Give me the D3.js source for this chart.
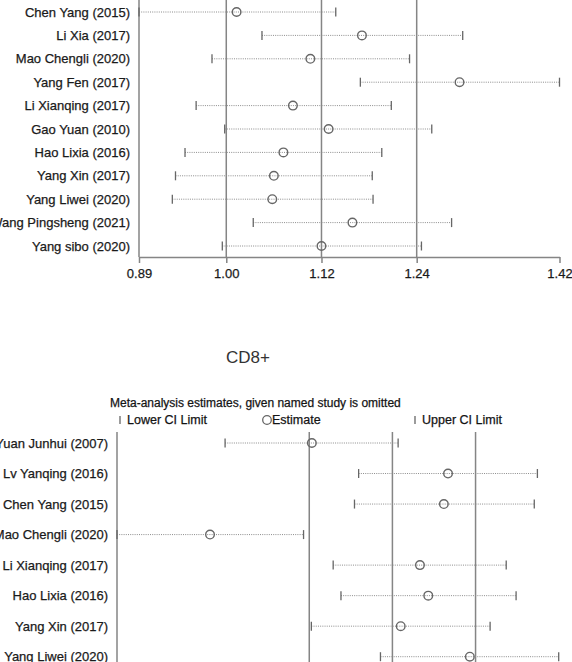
<!DOCTYPE html>
<html><head><meta charset="utf-8">
<script src="https://cdn.jsdelivr.net/npm/d3@7"></script>
<style>
html,body{margin:0;padding:0;background:#fff;}
svg{display:block;font-family:"Liberation Sans",Arial,Helvetica,sans-serif;}
text.lab{stroke:#1a1a1a;stroke-width:0.25px;}
</style></head>
<body>
<svg id="chart" width="572" height="662"></svg>
<script>
// ---- Panel 1 (upper, partially visible) ----
const names1 = ["Chen Yang (2015)","Li Xia (2017)","Mao Chengli (2020)","Yang Fen (2017)","Li Xianqing (2017)","Gao Yuan (2010)","Hao Lixia (2016)","Yang Xin (2017)","Yang Liwei (2020)","Wang Pingsheng (2021)","Yang sibo (2020)"];
const est1   = [1.013,1.171,1.106,1.294,1.084,1.129,1.072,1.060,1.058,1.159,1.120];
const lower1 = [0.890,1.045,0.982,1.169,0.962,0.998,0.948,0.936,0.932,1.034,0.995];
const upper1 = [1.138,1.298,1.231,1.420,1.208,1.259,1.196,1.184,1.185,1.284,1.246];
const ticks1 = [0.89,1.00,1.12,1.24,1.42];
const refs1  = [1.00,1.12,1.24];

// ---- Panel 2: CD8+ ----
const title2 = "CD8+";
const header2 = "Meta-analysis estimates, given named study is omitted";
const names2 = ["Yuan Junhui (2007)","Lv Yanqing (2016)","Chen Yang (2015)","Mao Chengli (2020)","Li Xianqing (2017)","Hao Lixia (2016)","Yang Xin (2017)","Yang Liwei (2020)"];
const est2   = [1.085,1.347,1.339,0.889,1.293,1.309,1.256,1.389];
const lower2 = [0.918,1.175,1.167,0.710,1.126,1.141,1.084,1.217];
const upper2 = [1.251,1.519,1.513,1.069,1.459,1.478,1.428,1.560];
const domain2 = [0.71,1.56];
const refs2  = [1.08,1.24,1.40];

const svg = d3.select("#chart");
const refColor = "#858585", dotColor = "#8c8c8c", ptColor = "#666", txt = "#1a1a1a";

function panel(g, cfg){
  const x = d3.scaleLinear().domain(cfg.domain).range(cfg.xr);
  const y = d3.scalePoint().domain(cfg.names).range(cfg.yr);
  const top = cfg.top, bottom = cfg.bottom;
  g.append("line").attr("x1",cfg.xr[0]).attr("x2",cfg.xr[0]).attr("y1",top).attr("y2",bottom)
    .attr("stroke",refColor).attr("stroke-width",1.5);
  g.selectAll("line.ref").data(cfg.refs).enter().append("line").attr("class","ref")
    .attr("x1",d=>x(d)).attr("x2",d=>x(d)).attr("y1",top).attr("y2",bottom)
    .attr("stroke",refColor).attr("stroke-width",1.5);
  const rows = cfg.names.map((n,i)=>({n, e:cfg.est[i], lo:cfg.lower[i], hi:cfg.upper[i]}));
  const r = g.selectAll("g.row").data(rows).enter().append("g").attr("class","row");
  r.append("line").attr("x1",d=>x(d.lo)).attr("x2",d=>x(d.hi)).attr("y1",d=>y(d.n)).attr("y2",d=>y(d.n))
    .attr("stroke",dotColor).attr("stroke-width",1).attr("stroke-dasharray","1 1.2");
  r.append("line").attr("x1",d=>x(d.lo)).attr("x2",d=>x(d.lo)).attr("y1",d=>y(d.n)-4.5).attr("y2",d=>y(d.n)+4.5)
    .attr("stroke",ptColor).attr("stroke-width",1.3);
  r.append("line").attr("x1",d=>x(d.hi)).attr("x2",d=>x(d.hi)).attr("y1",d=>y(d.n)-4.5).attr("y2",d=>y(d.n)+4.5)
    .attr("stroke",ptColor).attr("stroke-width",1.3);
  r.append("circle").attr("cx",d=>x(d.e)).attr("cy",d=>y(d.n)).attr("r",4.3)
    .attr("fill","none").attr("stroke",ptColor).attr("stroke-width",1.4);
  r.append("text").attr("class","lab").attr("x",cfg.xr[0]-9).attr("y",d=>y(d.n)).attr("dy","0.36em")
    .attr("text-anchor","end").attr("font-size",13).attr("fill",txt).text(d=>d.n);
  return x;
}

// Panel 1
const g1 = svg.append("g");
const x1 = panel(g1,{names:names1, est:est1, lower:lower1, upper:upper1, refs:refs1,
  domain:[ticks1[0], ticks1[ticks1.length-1]], xr:[139,559.5], yr:[12,246], top:0, bottom:257});
const ax = d3.axisBottom(x1).tickValues(ticks1).tickFormat(d3.format(".2f")).tickSize(6).tickSizeOuter(0);
const axg = g1.append("g").attr("transform","translate(0,257)").call(ax);
axg.select(".domain").attr("stroke",refColor).attr("stroke-width",1.5);
axg.selectAll(".tick line").attr("stroke",refColor).attr("stroke-width",1.5);
axg.selectAll(".tick text").attr("class","lab").attr("font-size",13).attr("fill",txt)
  .attr("font-family","Liberation Sans,Arial,sans-serif").attr("dy","0.95em");

// Title CD8+
svg.append("text").attr("x",248).attr("y",357).attr("dy","0.35em").attr("text-anchor","middle")
  .attr("font-size",17).attr("fill","#333").text(title2);

// Header + legend
svg.append("text").attr("class","lab").attr("x",110).attr("y",403).attr("dy","0.35em").attr("font-size",12)
  .attr("fill","#111").text(header2);
const lg = svg.append("g");
lg.append("line").attr("x1",120).attr("x2",120).attr("y1",416).attr("y2",424).attr("stroke",ptColor).attr("stroke-width",1.3);
lg.append("text").attr("class","lab").attr("x",127).attr("y",420).attr("dy","0.35em").attr("font-size",12.5).attr("fill","#111").text("Lower CI Limit");
lg.append("circle").attr("cx",267).attr("cy",420).attr("r",4.3).attr("fill","none").attr("stroke",ptColor).attr("stroke-width",1.3);
lg.append("text").attr("class","lab").attr("x",272).attr("y",420).attr("dy","0.35em").attr("font-size",12.5).attr("fill","#111").text("Estimate");
lg.append("line").attr("x1",415).attr("x2",415).attr("y1",416).attr("y2",424).attr("stroke",ptColor).attr("stroke-width",1.3);
lg.append("text").attr("class","lab").attr("x",422).attr("y",420).attr("dy","0.35em").attr("font-size",12.5).attr("fill","#111").text("Upper CI Limit");

// Panel 2
const g2 = svg.append("g");
panel(g2,{names:names2, est:est2, lower:lower2, upper:upper2, refs:refs2,
  domain:domain2, xr:[117,558.7], yr:[443,656.7], top:432, bottom:700});
</script>
</body></html>
